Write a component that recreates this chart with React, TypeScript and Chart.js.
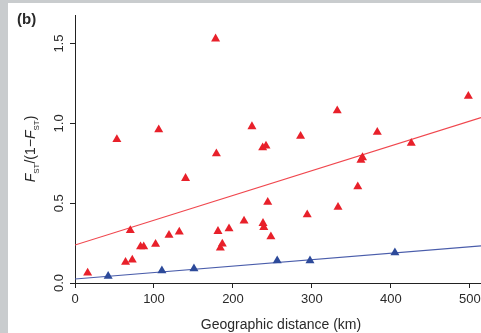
import React, { useEffect, useRef } from 'react';
import { Chart, registerables } from 'chart.js';

Chart.register(...registerables);

// Red population pairs: geographic distance (km) and FST/(1-FST)
const redDistance = [16, 53, 64, 70, 72.5, 83, 87, 102, 106, 119, 132, 140, 178, 179, 181, 184, 186.5, 195, 214, 224, 237.6, 241.8, 238, 239, 244, 248, 285.6, 294, 332, 333, 358, 362, 364, 382.7, 425.7, 498];
const redFst = [0.063, 0.9, 0.13, 0.33, 0.144, 0.228, 0.228, 0.243, 0.96, 0.3, 0.32, 0.656, 1.53, 0.81, 0.324, 0.22, 0.245, 0.34, 0.389, 0.98, 0.848, 0.859, 0.374, 0.349, 0.506, 0.29, 0.92, 0.428, 1.08, 0.475, 0.604, 0.77, 0.786, 0.945, 0.876, 1.17];

// Blue population pairs
const blueDistance = [42, 110, 150.6, 256, 297.5, 405];
const blueFst = [0.043, 0.077, 0.09, 0.14, 0.14, 0.19];

// Regression lines (end points)
const redLineX = [0, 514];
const redLineY = [0.238, 1.036];
const blueLineX = [0, 514];
const blueLineY = [0.025, 0.232];

// Axes
const xTicks = [0, 100, 200, 300, 400, 500];
const yTicks = [0, 0.5, 1.0, 1.5];
const xMax = 514;
const yMax = 1.679;

const FONT = '"Liberation Sans", Arial, Helvetica, sans-serif';
const RED = '#e8202a';
const BLUE = '#2d4a9a';
const TEXT = '#2a2a2a';

const zip = (xs: number[], ys: number[]) => xs.map((x, i) => ({ x, y: ys[i] }));

const decorPlugin = {
  id: 'decor',
  beforeDraw(chart: any) {
    const ctx = chart.ctx as CanvasRenderingContext2D;
    ctx.save();
    ctx.fillStyle = '#c9ccce';
    ctx.fillRect(0, 0, chart.width, chart.height);
    ctx.fillStyle = '#ffffff';
    ctx.fillRect(8, 3, chart.width - 8, chart.height - 3);
    ctx.restore();
  },
  afterDraw(chart: any) {
    const ctx = chart.ctx as CanvasRenderingContext2D;
    const area = chart.chartArea;
    ctx.save();
    ctx.fillStyle = TEXT;
    // panel label
    ctx.font = `bold 15px ${FONT}`;
    ctx.textBaseline = 'alphabetic';
    ctx.textAlign = 'left';
    ctx.fillText('(b)', 17, 24);

    // x-axis title
    ctx.font = `14px ${FONT}`;
    ctx.textAlign = 'center';
    ctx.fillText('Geographic distance (km)', 281, 329);

    // y-axis title with subscripts
    const segs = [
      { t: 'F', f: `italic 14px ${FONT}`, dy: 0 },
      { t: 'ST', f: `8px ${FONT}`, dy: 4 },
      { t: '/(1\u2212', f: `14px ${FONT}`, dy: 0 },
      { t: 'F', f: `italic 14px ${FONT}`, dy: 0 },
      { t: 'ST', f: `8px ${FONT}`, dy: 4 },
      { t: ')', f: `14px ${FONT}`, dy: 0 },
    ];
    let total = 0;
    const widths = segs.map((s) => {
      ctx.font = s.f;
      const w = ctx.measureText(s.t).width;
      total += w;
      return w;
    });
    ctx.translate(35, (area.top + area.bottom) / 2);
    ctx.rotate(-Math.PI / 2);
    ctx.textAlign = 'left';
    let cx = -total / 2;
    segs.forEach((s, i) => {
      ctx.font = s.f;
      ctx.fillText(s.t, cx, s.dy);
      cx += widths[i];
    });
    ctx.restore();
  },
};

export default function App() {
  const ref = useRef<HTMLCanvasElement>(null);
  useEffect(() => {
    if (!ref.current) return;
    const chart = new Chart(ref.current, {
      type: 'scatter',
      data: {
        datasets: [
          {
            label: 'red',
            data: zip(redDistance, redFst),
            pointStyle: 'triangle',
            pointRadius: 5.2,
            pointBorderWidth: 0,
            backgroundColor: RED,
            borderColor: RED,
          },
          {
            label: 'blue',
            data: zip(blueDistance, blueFst),
            pointStyle: 'triangle',
            pointRadius: 5.2,
            pointBorderWidth: 0,
            backgroundColor: BLUE,
            borderColor: BLUE,
          },
          {
            type: 'line',
            label: 'red fit',
            data: zip(redLineX, redLineY),
            borderColor: '#f0474e',
            borderWidth: 1.2,
            pointRadius: 0,
            fill: false,
          } as any,
          {
            type: 'line',
            label: 'blue fit',
            data: zip(blueLineX, blueLineY),
            borderColor: '#4a5dab',
            borderWidth: 1.2,
            pointRadius: 0,
            fill: false,
          } as any,
        ],
      },
      options: {
        animation: false,
        responsive: false,
        devicePixelRatio: 1,
        layout: { autoPadding: false, padding: { left: 0, right: 0, top: 15, bottom: 0 } },
        plugins: { legend: { display: false }, tooltip: { enabled: false } },
        scales: {
          x: {
            type: 'linear',
            min: 0,
            max: xMax,
            afterFit: (s: any) => { s.height = 50; s.paddingLeft = 0; s.paddingRight = 0; },
            afterBuildTicks: (s: any) => { s.ticks = xTicks.map((v) => ({ value: v })); },
            grid: { display: true, drawOnChartArea: false, drawTicks: true, tickLength: 5, color: '#222', lineWidth: 1 },
            border: { display: true, color: '#222', width: 1 },
            ticks: {
              font: { family: FONT, size: 13 },
              color: TEXT,
              padding: 4,
              maxRotation: 0,
              minRotation: 0,
              callback: (v: any) => String(v),
            },
          },
          y: {
            type: 'linear',
            min: 0,
            max: yMax,
            afterFit: (s: any) => { s.width = 75; s.paddingTop = 0; s.paddingBottom = 0; },
            afterBuildTicks: (s: any) => { s.ticks = yTicks.map((v) => ({ value: v })); },
            grid: { display: true, drawOnChartArea: false, drawTicks: true, tickLength: 5, color: '#222', lineWidth: 1 },
            border: { display: true, color: '#222', width: 1 },
            ticks: {
              font: { family: FONT, size: 13 },
              color: TEXT,
              padding: 2,
              minRotation: 90,
              maxRotation: 90,
              crossAlign: 'center',
              callback: (v: any) => Number(v).toFixed(1),
            },
          },
        },
      },
      plugins: [decorPlugin],
    } as any);
    return () => chart.destroy();
  }, []);
  return (
    <div style={{ position: 'fixed', left: 0, top: 0, width: 481, height: 333 }}>
      <canvas ref={ref} width={481} height={333} style={{ display: 'block' }} />
    </div>
  );
}
